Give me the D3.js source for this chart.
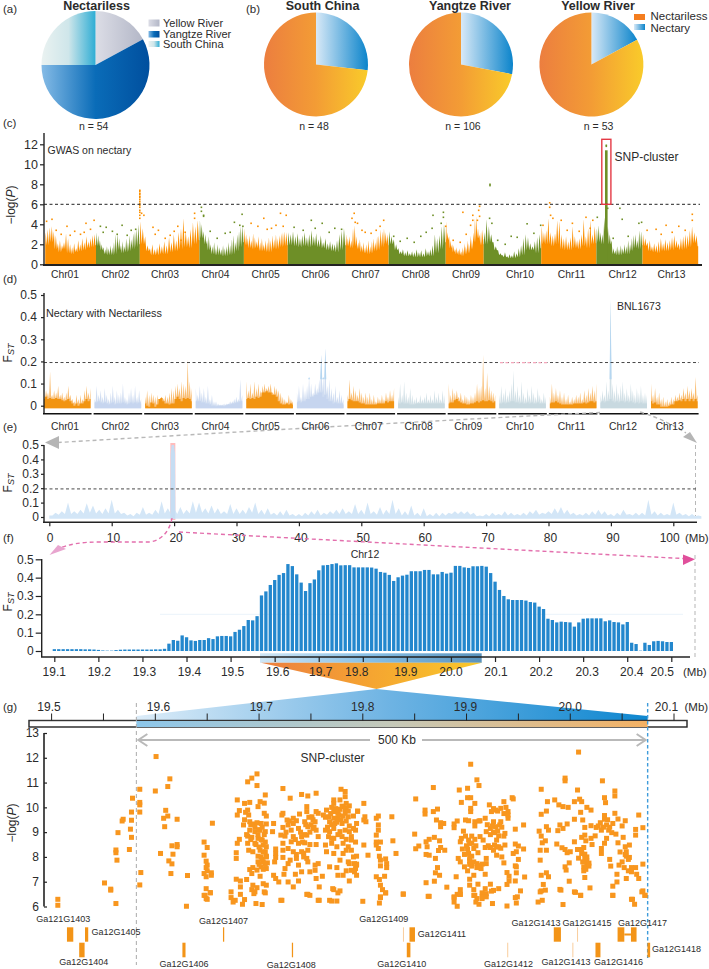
<!DOCTYPE html>
<html><head><meta charset="utf-8">
<script src="https://cdnjs.cloudflare.com/ajax/libs/d3/7.8.5/d3.min.js"></script>
<style>html,body{margin:0;padding:0;background:#fff}svg{display:block}text{font-family:"Liberation Sans",Arial,sans-serif;fill:#2b2b2b}</style>
</head><body><div id="c"></div>
<script>
// ---- DATA ----
const nectarilessRegions=["Yellow River","Yangtze River","South China"];
const nectarilessShares=[17.1,57.9,25];
const pieNames=["South China","Yangtze River","Yellow River"];
const pieN=[48,106,53];
const pieNectaryShare=[26.8,28,17.1];
const chrNames=["Chr01","Chr02","Chr03","Chr04","Chr05","Chr06","Chr07","Chr08","Chr09","Chr10","Chr11","Chr12","Chr13"];
const chrLengths=[50.8,43.8,59.7,44.4,43.9,57.9,43,57,38,57.5,55.2,46.1,55.7];
const gwasEnvelope=[
[3.2,3.5,3.7,3.8,3.3,2.9,2.1,2.4,1.9,2.2,3.1,2.6,2.0,1.7,2.1,1.6,2.4,2.0,2.6,2.2,2.8,2.3,2.6,2.9,3.0],
[3.2,2.9,2.4,2.0,1.7,1.5,1.8,1.6,1.9,1.7,2.2,3.0,3.1,2.6,1.9,2.3,1.8,2.6,2.2,2.9,2.5,3.1,3.3,3.6,4.0],
[4.3,3.6,2.8,1.9,1.6,2.0,1.5,1.7,2.1,1.8,2.3,1.9,2.7,2.2,3.0,2.4,3.2,3.6,4.6,3.3,2.8,3.5,4.2,3.8,4.4],
[4.4,4.0,3.3,3.0,2.4,2.8,2.0,1.8,2.2,1.6,2.0,1.7,1.5,1.9,1.6,1.8,2.2,1.9,2.5,2.9,2.2,3.0,3.3,3.8,3.9],
[3.6,3.0,2.6,2.9,2.4,3.1,2.7,2.3,2.8,2.2,2.6,2.0,2.4,2.2,2.7,2.4,2.9,2.5,3.0,2.6,2.9,3.1,3.2,3.3,3.2],
[3.2,3.0,3.3,2.8,3.1,2.6,2.9,3.2,2.7,3.0,3.4,2.8,3.1,2.5,2.9,2.2,2.6,2.1,2.3,2.1,2.0,2.4,3.0,3.4,3.6],
[3.0,2.6,2.8,2.4,3.6,3.9,2.8,2.2,2.5,1.9,2.2,1.7,2.0,2.4,1.8,2.3,2.6,2.2,2.8,2.9,3.5,3.3,3.6,3.2,3.0],
[3.3,2.8,2.5,2.0,1.6,1.3,1.5,1.2,1.4,1.1,1.3,1.2,1.5,1.2,1.4,1.1,1.6,1.3,1.5,1.9,3.0,2.6,2.9,3.8,4.0],
[4.3,3.2,2.8,2.4,2.0,1.9,1.5,1.7,1.4,1.6,1.3,1.7,2.1,1.8,2.4,2.1,2.9,2.5,3.2,4.6,4.8,3.6,3.0,3.3,3.5],
[3.2,4.5,3.8,3.0,2.2,1.8,1.4,1.1,0.9,1.2,0.8,1.0,0.9,1.3,1.1,1.6,1.9,2.6,3.0,2.7,2.1,1.8,2.3,2.7,3.0],
[3.8,3.2,3.4,4.6,3.2,2.9,3.1,4.4,4.3,3.0,2.6,2.8,2.3,2.7,3.8,2.8,2.4,2.6,3.0,4.5,2.8,3.6,4.4,3.0,3.8],
[3.6,3.9,3.2,3.0,4.7,5.6,3.8,3.0,2.4,1.6,1.4,1.8,1.5,1.9,1.6,2.0,1.8,2.4,2.0,2.6,2.9,3.0,2.4,3.4,3.3],
[3.0,2.6,2.2,2.4,1.8,2.1,1.9,2.3,2.6,2.1,2.5,2.2,2.4,2.7,2.9,2.4,2.1,2.6,2.8,3.0,2.9,3.4,3.8,3.2,2.9]];
const gwasFloor=[
[1.9,2.2,1.5,1.2,1.5,1.1,1.0,1.2,1.3,1.4,1.6,1.7,1.9],
[1.8,1.4,1.0,.9,.9,1.0,1.4,1.1,1.2,1.3,1.5,1.7,2.0],
[2.0,1.3,.9,.9,1.0,1.0,1.2,1.3,1.5,1.7,1.6,2.0,2.4],
[2.6,2.0,1.4,1.0,.9,.9,.8,.8,.9,1.0,1.3,1.7,2.2],
[1.9,1.6,1.5,1.6,1.3,1.3,1.2,1.2,1.5,1.5,1.7,1.8,1.9],
[1.9,1.8,1.7,1.8,1.7,1.8,1.7,1.6,1.4,1.3,1.2,1.4,1.9],
[1.8,1.6,1.8,1.5,1.2,1.1,1.0,1.1,1.3,1.4,1.7,2.0,1.9],
[2.0,1.4,1.0,.8,.8,.7,.7,.7,.8,.8,1.1,1.5,2.2],
[2.4,1.6,1.2,1.0,.9,.8,1.0,1.1,1.5,2.2,2.6,1.9,2.0],
[2.0,2.2,1.4,.9,.7,.6,.6,.7,.9,1.4,1.4,1.1,1.6],
[2.0,2.0,1.8,2.0,1.5,1.4,1.4,1.6,1.5,1.8,1.6,2.0,2.1],
[2.2,2.0,3.0,2.0,1.0,.9,.9,1.0,1.0,1.3,1.6,1.5,1.9],
[1.8,1.3,1.2,1.1,1.3,1.3,1.4,1.6,1.4,1.5,1.7,2.1,1.8]];
const gwasOutliers=[[1.4,4.3],[6.8,4.5],[21.8,3.8],[40.8,4.1],[48.9,4.4],[11,3.4],[29.5,3.3],[35.3,3.0],[45.3,3.5],[16,3.0],[25,2.9],[39,3.2],
[55.2,3.8],[61,3.7],[76.9,3.9],[86,3.4],[90.5,3.5],[67.2,3.3],[72,3.0],[58,3.2],[82,2.9],[94.6,7.4],[94.6,7.3],[94.6,7.1],[94.6,7.0],[94.6,6.8],[94.6,6.7],[94.6,6.5],[94.6,6.3],[94.6,6.1],[94.6,5.9],[94.6,5.7],[94.6,5.4],[94.6,5.2],[94.6,4.9],[94.6,4.6],[98.7,4.9],[96.4,5.1],
[107.8,3.7],[113.2,3.4],[129,3.3],[132.6,3.8],[149.4,5.1],[149.4,4.6],[156.2,5.7],[156.2,5.3],[158.4,4.9],[135.8,2.4],[158.4,4.8],[189.2,4.2],[196.9,5.0],[194.6,3.9],[197.7,3.8],[180,3.1],[110,3.0],[120,2.6],[125,2.9],[140,3.2],[165,3.3],[172,2.6],[185,3.2],
[235.3,5.1],[241,4.9],[218.6,4.6],[205.9,4.1],[212.7,3.8],[226.3,3.6],[230.8,3.9],[266.1,4.4],[277,4.1],[248.9,3.7],[258,3.4],[289.6,3.6],[296.4,3.5],[222,3.5],[238,3.8],[270,3.6],[284,3.2],
[309,5.1],[306.8,4.6],[310,4.2],[312.3,4.1],[338.5,4.4],[334.9,3.8],[316.8,3.4],[325.9,3.1],[387.8,4.9],[398.2,5.2],[398.2,4.7],[396,4.1],[400.5,3.8],[348.5,2.8],[362,2.6],[375.6,2.8],[386.9,3.6],[320,3.2],[331,3.4],[355,2.3],[369,2.2],[381,3.2],
[417.7,5.2],[434.4,5.8],[433.5,5.4],[427.6,4.9],[434.4,4.8],[427.6,4.4],[432.2,4.4],[425.4,3.9],[444.8,8.0],[444.8,7.87],[444.4,4.6],[446.7,4.1],[408,2.4],[415,2.2],[421,3.0],
[481.9,4.05],[495.5,3.9],[466,2.8],[488.7,3.1],[452.5,2.4],[460,2.0],[472,2.7],[504.5,6.15],[504.5,5.7],[505.4,4.9],[507.7,4.6],[497.8,3.9],[527.2,4.1],[540.8,4.7],[547.6,4.4],[552.1,4.7],[516,4.4],[522,3.4],[534,3.3],[545,3.6],
[561.1,11.9],[561.1,11.8],[562.5,5.6],[574.7,5.6],[577,4.5],[596.4,4.2],[593.7,4.1],[647.1,5.0],[647.1,4.4],[620.9,3.9],[633.6,3.8],[601.9,3.4],[610.9,3.5],[568,2.6],[583,2.8],[616,3.0],[627,3.2],[640,3.4]];
const gwasClusterPos=[561.1];
const gwasClusterTop=[11.4];
const gwasThreshold=6;
const fstThreshold=0.195;
const fstPeaks=[
[.05,.07,.06,.155,.05,.07,.06,.09,.05,.06,.04,.06,.09,.05,.03,.02,.05,.03,.05,.03,.07,.09,.06,.08],
[.03,.09,.05,.07,.04,.08,.05,.03,.06,.09,.04,.07,.05,.06,.10,.04,.03,.06,.08,.05,.09,.04,.07,.03],
[.04,.07,.05,.06,.05,.04,.05,.03,.04,.03,.05,.04,.06,.08,.07,.09,.1,.08,.11,.1,.09,.21,.11,.08],
[.08,.05,.09,.06,.08,.04,.09,.03,.05,.02,.02,.01,.005,.005,.01,.01,.01,.02,.02,.03,.04,.03,.12,.05],
[.11,.07,.1,.06,.11,.08,.1,.07,.09,.1,.08,.09,.1,.06,.09,.08,.07,.06,.04,.03,.02,.05,.03,.02],
[.06,.09,.04,.1,.07,.09,.13,.1,.06,.1,.08,.12,.23,.13,.26,.09,.12,.08,.06,.09,.04,.07,.05,.03],
[.05,.12,.06,.09,.07,.05,.08,.06,.04,.06,.04,.06,.03,.05,.02,.04,.03,.05,.03,.06,.04,.07,.05,.08],
[.04,.1,.05,.11,.06,.04,.08,.05,.03,.04,.02,.05,.03,.04,.06,.03,.05,.03,.07,.04,.06,.03,.07,.05],
[.1,.05,.08,.06,.07,.04,.06,.03,.05,.04,.03,.05,.04,.06,.1,.08,.09,.23,.08,.15,.09,.07,.06,.05],
[.05,.09,.06,.08,.05,.07,.1,.16,.07,.09,.05,.11,.06,.04,.08,.05,.09,.06,.04,.08,.05,.03,.06,.04],
[.04,.1,.06,.08,.05,.07,.04,.06,.03,.05,.02,.04,.03,.05,.04,.06,.03,.07,.05,.08,.06,.09,.07,.1],
[.05,.07,.05,.11,.07,.48,.1,.07,.1,.06,.09,.11,.06,.08,.05,.1,.07,.05,.08,.06,.09,.05,.06,.05],
[.1,.05,.08,.04,.06,.03,.04,.02,.03,.02,.04,.03,.05,.04,.06,.05,.08,.06,.09,.07,.08,.06,.13,.05]];
const fstBase=[
[.03,.04,.03,.035,.03,.03,.035,.03,.03,.025,.02,.025,.03,.02,.01,0,.01,0,.01,.01,.02,.03,.02,.03],
[.015,.015,.02,.015,.01,.015,.01,.005,.01,.015,.005,.01,.01,.01,.015,.01,.005,.01,.015,.01,.015,.01,.015,.01],
[.01,.0,-.005,.015,.01,-.005,.005,.03,.035,.02,.01,.01,.005,.01,.01,.03,.04,.03,.02,.035,.03,.035,.03,.02],
[.02,.02,.02,.015,.015,.01,.01,.005,0,0,-.002,0,0,0,-.002,.002,.005,.005,.01,.01,.015,.015,.02,.02],
[.03,.035,.03,.035,.03,.04,.035,.04,.06,.06,.065,.06,.06,.05,.05,.04,.02,.01,.005,.005,.01,.005,.01,.005],
[.015,.02,.015,.02,.02,.03,.03,.04,.04,.05,.05,.06,.06,.04,.05,.03,.02,.02,.01,.015,.01,.01,.01,.005],
[.02,.03,.025,.02,.02,.02,.015,.01,.01,.005,.005,.005,.005,.005,.005,.01,.01,.01,.01,.02,.015,.02,.02,.02],
[.01,.01,.015,.01,.01,.01,.005,.005,.005,.01,.01,.01,.01,.01,.01,.01,.01,.01,.01,.01,.01,.01,.01,.01],
[.01,.015,.015,.025,.03,.02,.015,.01,.01,.005,.005,.01,.01,.015,.02,.015,.02,.025,.02,.02,.025,.02,.015,.02],
[.01,.01,.015,.01,.015,.015,.02,.02,.015,.015,.01,.015,.01,.01,.015,.01,.015,.01,.01,.015,.01,.01,.01,.01],
[.01,.015,.015,.02,.015,.01,.005,.005,.005,.005,.005,.005,.01,.01,.01,.01,.01,.015,.01,.015,.02,.02,.015,.02],
[.015,.02,.015,.02,.02,.03,.02,.015,.02,.015,.02,.02,.015,.02,.015,.02,.015,.01,.015,.01,.015,.01,.01,.01],
[.02,.01,.015,.005,.005,-.005,-.005,-.005,-.005,0,.005,.005,.02,.02,.025,.02,.03,.02,.03,.02,.03,.02,.03,.02]];
const chr12Fst=[.01,.03,.04,.1,.04,.05,.095,.08,.05,.06,.12,.05,.03,.02,.03,.07,.03,.05,.11,.06,.06,.07,.05,.11,.1,.06,.08,.06,.04,.09,.06,.05,.07,.1,.05,.06,.03,.04,.05,.02,.02,.03,.04,.05,.03,.04,.05,.06,.04,.09,.05,.1,.04,.07,.05,.12,.06,.04,.08,.03,.06,.02,.03,.03,.03,.04,.04,.04,.03,.01,.02,.03,.02,.04,.03,.02,.03,.04,.05,.03,.04,.06,.07,.05,.03,.02,.03,.04,.05,.04,.02,.03,.05,.02,.03,.03,.12,.04,.03,.02,.1,.03,.02,.02,.01];
const chr12FstMid=[.01,.015,.02,.02,.02,.025,.03,.025,.02,.025,.025,.02,.01,.005,.015,.015,.015,.02,.025,.02,.02,.02,.025,.03,.03,.025,.025,.02,.02,.02,.02,.02,.03,.02,.015,.015,.01,.01,.01,.005,.005,.01,.015,.01,.015,.02,.02,.02,.02,.02,.015,.02,.015,.015,.02,.02,.01,.01,.01,.005,.005,.005,.005,.01,.02,.02,.02,.015,.005,.005,.005,.01,.01,.01,.01,.01,.01,.02,.015,.02,.02,.025,.02,.015,.01,.01,.01,.015,.015,.01,.005,.01,.015,.01,.01,.01,.015,.01,.01,.01,.015,.01,.005,.005,.005];
const chr12PeakMb=[19.4,19.45,19.6,20.0,20.15,20.2];
const chr12PeakFst=[.06,.44,.5,.5,.44,.06];
const peakBandMb=[19.4,20.2];
const zoomFst=[
.01,.01,.01,.01,.01,.01,.01,.009,.009,.008,
.006,.003,.002,.002,.005,.007,.008,.008,.008,.008,
.008,.008,.008,.009,.009,.012,.04,.06,.056,.085,
.075,.058,.055,.06,.06,.07,.065,.08,.082,.082,
.08,.104,.116,.136,.169,.167,.19,.303,.325,.36,
.387,.415,.425,.474,.463,.418,.373,.327,.37,.39,
.44,.467,.469,.474,.478,.467,.468,.468,.456,.456,
.456,.456,.455,.449,.431,.427,.415,.382,.402,.411,
.416,.435,.435,.435,.442,.442,.418,.418,.431,.422,
.427,.464,.464,.456,.453,.462,.462,.464,.46,.425,
.378,.333,.3,.282,.278,.278,.278,.275,.267,.264,
.242,.229,.176,.169,.156,.16,.158,.156,.133,.156,
.176,.178,.178,.178,.178,.162,.167,.158,.156,.145,
.158,.045,.038,.002,.045,.033,.053,.055,.053,.049,
.049];
const zoomStartMb=19.1, zoomStepMb=0.01;
const fTicks=[19.1,19.2,19.3,19.4,19.5,19.6,19.7,19.8,19.9,20.0,20.1,20.2,20.3,20.4,20.5];
const gTicks=[19.5,19.6,19.7,19.8,19.9,20.0,20.1];
const eTicks=[0,10,20,30,40,50,60,70,80,90,100];
const clusterStartMb=19.5817, clusterEndMb=20.0746;
// SNP positions: kb past 19.5 Mb, -log(P)
const snpKb=[100.7,198,193,189,198,114,112,100,85,78,85,85,77,85,69,68,77,64,76,77,75,62,62,63,51,57,86,85,
110,108,112,121,109,116,121,121,117,105,113,116,115,131,155,147,150,147,149,150,149,150,147,154,154,149,149,153,148,150,
179,179,181,186,191,189,190,185,191,199,201,206,205,205,207,214,213,194,198,202,207,191,196,201,206,189,193,199,203,181,179,189,196,204,207,190,194,201,206,178,178,199,202,207,199,204,208,216,216,216,215,191,194,198,202,207,193,201,214,216,178,182,188,182,194,198,204,207,193,196,206,173,182,219,
223,230,241,247,255,223,222,239,246,246,255,227,233,236,244,251,254,257,223,228,231,238,247,252,255,221,225,233,241,246,257,223,231,238,244,255,223,228,233,241,247,223,230,236,243,246,225,228,238,247,254,257,224,235,241,249,254,261,228,233,238,255,258,222,246,249,257,268,272,278,
279,283,283,272,278,272,284,287,284,281,278,265,272,276,283,295,262,267,272,276,286,291,268,273,280,291,264,268,278,283,287,267,272,280,284,289,264,270,275,286,284,265,272,281,291,278,286,268,275,287,292,294,284,292,276,281,287,271,276,
301,295,302,301,303,313,315,328,315,315,313,329,313,317,313,315,301,305,332,316,317,322,323,317,323,313,321,316,317,319,322,317,339,294,293,289,289,294,294,293,294,289,
351,368,360,360,368,372,371,375,378,375,350,364,369,374,361,354,351,362,375,373,379,361,364,370,372,370,374,361,369,381,363,
404,410,412,393,401,401,404,395,408,422,436,444,445,404,404,424,428,433,438,440,440,440,418,413,408,402,399,391,388,388,408,426,433,428,423,432,447,455,397,399,395,419,427,436,413,405,402,408,416,429,394,403,418,427,423,431,437,447,450,455,396,401,407,426,402,405,411,429,434,445,448,392,394,403,419,450,436,410,415,419,405,410,414,401,447,448,407,418,390,403,439,441,448,456,403,407,411,447,441,423,431,439,418,426,424,394,415,419,452,449,391,394,407,388,415,410,
508,495,495,531,472,507,543,543,533,534,485,478,489,493,498,504,509,511,516,520,477,472,510,543,566,533,546,504,512,533,553,497,490,477,514,520,529,535,550,570,470,479,488,493,525,530,537,540,563,563,472,514,524,511,473,476,504,515,520,544,535,551,546,557,487,521,533,513,492,471,477,495,500,507,530,553,554,530,511,497,514,554,557,471,514,516,538,550,499,516,539,547,570,495,496,513,518,552,559,563,556,559,513,477,472,479,545,564,514,554,566,545,499,474,541,519,472,476,490,491,505,510,541,570,572,559,
6,6,62,130,57,153,147,149,173,177,175,186,184,197,203,195,205,221,247,258,270,275,300,316,317,322,339,364,388,394,388,391,408,415,409,412,419,425,439,448,447,469,473,493,471,504,510,541,560,562,569,572,
196,200,203,205,199,202,206,197,200,204,207,203,206,200,204,192,188,192,186,187,
248,252,250,245,253,249,244,240,229,233,226,235,242,249,236,243,
270,274,280,283,286,277,281,269,264,275,279,284,270,272,266,287,293,281,276,270,
412,420,425,430,434,426,431,437,423,429,433,421,405,409,400,398,403,407,398,403,412,436,430,426,
516,518,515,512,511,508,541,536,532,527,538,548,553,556];
const snpLogP=[12.05,11.35,11.18,11.03,10.88,11.15,10.84,10.66,10.73,10.37,10.2,10.1,9.81,9.81,9.52,9.45,9.48,8.98,9.12,8.79,8.3,8.28,8.17,7.87,6.95,6.7,7.37,6.87,
9.88,9.56,9.65,9.52,9.22,8.45,8.5,8.41,8.11,8.14,7.84,7.72,7.33,7.25,9.36,8.6,8.38,8.07,7.83,7.67,7.57,7.44,7.33,7.36,7.26,7.2,6.72,6.56,6.45,6.29,
10.3,9.69,9.87,10.16,10.2,9.89,9.69,9.29,9.42,10.03,10.23,10.5,10.17,9.76,9.65,9.35,9.02,9.33,9.38,9.35,9.33,9.08,9.02,9.08,9.02,8.84,8.79,8.75,8.68,8.71,8.55,8.55,8.55,8.48,8.41,8.27,8.21,8.27,8.21,8.17,7.94,8.03,8.0,8.03,7.8,7.8,7.76,8.32,8.14,7.98,7.8,7.49,7.57,7.47,7.6,7.53,7.33,7.22,7.26,7.13,7.1,7.03,7.09,6.79,6.86,6.76,6.92,6.86,6.68,6.59,6.55,6.59,6.49,6.99,
10.76,10.37,10.52,10.46,10.57,9.76,9.69,9.73,10.03,9.83,9.83,9.49,9.56,9.46,9.42,9.62,9.42,9.76,9.19,9.29,9.08,9.15,9.22,9.15,9.08,8.88,8.84,8.82,8.82,8.88,8.82,8.55,8.61,8.55,8.57,8.5,8.27,8.34,8.21,8.21,8.27,7.98,7.87,7.94,8.0,7.94,7.53,7.73,7.67,7.8,7.67,7.73,7.3,7.3,7.4,7.4,7.46,7.22,6.99,6.79,7.03,7.13,6.79,6.25,6.49,6.45,6.25,6.25,6.68,6.63,
10.73,10.64,10.43,10.3,10.3,10.16,10.16,10.06,9.96,10.03,9.92,9.89,9.83,9.76,9.76,9.84,9.69,9.62,9.56,9.56,9.62,9.65,9.42,9.35,9.35,9.15,9.08,9.02,9.02,9.08,9.02,8.82,8.75,8.82,8.71,8.68,8.48,8.55,8.41,8.41,8.27,8.21,8.14,8.14,8.0,7.87,7.8,7.6,7.57,7.73,7.73,7.67,7.44,7.4,7.26,7.26,7.03,6.72,6.55,
10.16,9.85,9.62,9.49,9.42,9.56,9.65,9.62,9.29,9.08,8.88,8.65,8.6,8.6,8.48,8.34,8.48,8.07,8.14,8.03,7.87,7.92,7.73,7.64,7.57,7.2,7.22,7.09,6.86,6.68,6.55,6.36,6.51,9.35,9.08,8.82,8.27,8.03,7.71,7.53,7.26,7.46,
10.34,10.8,9.89,9.73,9.83,9.93,9.49,9.38,9.35,9.22,8.92,8.71,8.79,8.65,8.61,8.44,8.33,8.41,8.38,8.26,8.27,8.1,8.07,7.94,7.57,7.36,7.26,6.96,7.02,6.78,6.41,
11.74,11.11,10.88,10.7,10.77,10.39,10.39,10.2,10.16,10.1,10.23,10.39,10.34,9.96,9.83,9.83,9.89,9.96,10.0,9.83,9.69,9.56,9.56,9.46,9.42,9.46,9.49,9.45,9.33,9.18,9.25,9.42,9.42,9.22,9.15,9.29,9.12,9.29,9.04,8.84,8.75,9.02,8.98,8.84,8.82,8.84,8.68,8.71,8.68,8.68,8.61,8.55,8.38,8.48,8.38,8.41,8.48,8.52,8.44,8.32,8.32,8.32,8.34,8.27,8.14,8.03,8.17,8.07,8.0,8.14,8.21,7.94,7.8,7.84,7.94,7.9,7.76,7.73,7.71,7.73,7.63,7.57,7.53,7.44,7.64,7.6,7.26,7.3,7.2,7.1,7.37,7.22,7.36,7.19,6.86,6.68,6.9,7.03,7.03,6.9,6.72,6.89,6.72,6.65,6.62,6.68,6.55,6.52,6.63,6.39,6.49,6.49,6.45,6.39,6.39,6.32,
12.23,11.18,11.07,11.07,10.73,10.7,10.66,10.46,10.39,10.19,10.3,10.23,10.1,10.03,10.0,10.23,10.33,10.23,10.0,9.89,9.85,9.72,9.8,9.76,9.69,9.67,9.53,9.52,9.49,9.52,9.46,9.33,9.29,9.22,9.19,9.26,9.38,9.29,9.25,9.18,9.04,9.08,9.06,9.15,9.19,9.08,9.08,8.98,9.11,8.88,8.84,8.88,8.85,8.79,8.57,8.65,8.61,8.65,8.75,8.92,8.75,8.79,8.57,8.48,8.52,8.5,8.55,8.38,8.37,8.27,8.27,8.3,8.21,8.3,8.34,8.41,8.21,8.14,8.14,8.17,8.11,8.03,7.98,7.87,7.94,7.84,7.9,7.8,7.76,7.67,7.63,7.67,7.71,7.6,7.47,7.6,7.63,7.57,7.57,7.57,7.44,7.4,7.44,7.36,7.26,7.2,7.3,7.3,7.17,7.13,7.13,6.99,7.02,6.89,6.82,6.75,6.63,6.66,6.69,6.66,6.57,6.45,6.45,6.63,6.45,6.29,
6.29,6.05,6.12,6.01,6.66,6.55,6.45,6.32,6.36,6.25,6.18,6.28,6.09,6.12,6.08,6.52,6.59,6.25,6.49,6.25,6.22,6.22,6.21,6.14,6.39,6.55,6.49,6.41,6.36,6.49,6.18,6.01,6.45,6.32,6.18,6.09,6.39,6.12,6.02,6.14,6.36,6.18,6.25,6.08,6.59,6.59,6.45,6.45,6.29,6.09,6.59,6.45,
9.2,9.1,9.2,8.9,8.9,8.7,8.6,8.5,8.4,8.2,8.0,7.9,7.7,7.7,7.5,9.3,8.9,8.7,9.5,9.8,
9.6,9.5,9.3,9.3,9.2,9.0,8.9,9.0,9.45,9.35,9.0,8.7,8.6,8.5,8.1,8.15,
10.0,9.95,10.05,9.95,9.85,9.7,9.65,9.75,9.6,9.4,9.5,9.45,9.3,9.15,9.2,9.25,8.6,8.55,8.9,8.75,
9.45,9.3,9.25,9.05,9.2,9.0,8.85,8.95,8.9,8.4,8.35,8.45,8.55,8.45,8.45,8.1,7.95,7.8,7.6,7.7,7.65,9.75,9.85,9.95,
8.0,7.75,7.5,7.8,8.3,7.95,9.35,9.5,9.2,9.25,9.2,8.2,8.1,7.9];
const geneStart=[19.5148,19.5322,19.6652,19.8387,19.845,19.9841,20.0065,20.0456,20.0585,19.5266,19.6261,19.7316,19.8424,19.9392,20.002,20.0243,20.0744];
const geneEnd  =[19.5209,19.5353,19.6664,19.8397,19.8503,19.991,20.0075,20.0521,20.0639,19.5318,19.6291,19.7328,19.8459,19.9402,20.003,20.0291,20.077];
const geneRow  =[0,0,0,0,0,0,0,0,0,1,1,1,1,1,1,1,1];
const geneFaint=[0,0,0,1,0,0,1,0,0,0,0,0,0,1,1,0,0];
const geneLabels=["Ga121G1403","Ga12G1405","Ga12G1404","Ga12G1407","Ga12G1406","Ga12G1408","Ga12G1409","Ga12G1411","Ga12G1410","Ga12G1412","Ga12G1413","Ga12G1415","Ga12G1417","Ga12G1413","Ga12G1416","Ga12G1418"];
const geneLabelMb=[19.5113,19.5621,19.5309,19.6657,19.6276,19.7311,19.8201,19.8763,19.8376,19.9405,19.967,20.0161,20.0696,19.9958,20.0466,20.1024];
const snpClusterLabel="SNP-cluster";
// ---- LAYOUT (not data) ----
const geneLabelY=[919,931.7,961.7,921,964,964.5,918.7,934.3,964,963.7,923,923,923,961.7,962.3,949];
const W=709,H=969;
const svg=d3.select("#c").append("svg").attr("width",W).attr("height",H);
const defs=svg.append("defs");
function grad(id,stops){const g=defs.append("linearGradient").attr("id",id);stops.forEach((c,i)=>g.append("stop").attr("offset",i/(stops.length-1)).attr("stop-color",c));return `url(#${id})`;}
const gYellow=grad("gy",["#dcdde6","#b3b7c7"]),gYangtze=grad("gz",["#85bbe6","#0a6cb8","#004f9e"]),gSouth=grad("gs",["#eaf2f1","#cfe6ea","#2fadd4"]);
const gNectary=grad("gn",["#d8e9f7","#0b84cb"]),gNless=grad("gl",["#ec7e3f","#f39c35","#f9cb2a"]);
const gBand=grad("gb",["#cfe6f5","#86bfe6","#5a93bd"]),gTri=grad("gt",["#ec7e3f","#f5a531","#f9c92a"]),gBig=grad("gB",["#dcecf8","#6db3e3","#0e87d0"]),gTrack=grad("gT",["#8cc6ea","#c5c9b9","#f3b164"]);
function txt(x,y,s,o={}){const t=svg.append("text").attr("x",x).attr("y",y).attr("dy",".35em").attr("font-size",o.size||11).attr("text-anchor",o.anchor||"start").text(s);if(o.bold)t.attr("font-weight","bold");return t;}
["(a)","(b)","(c)","(d)","(e)","(f)","(g)"].forEach((s,i)=>txt([3,246,3,3,3,3,3][i],[9,9,123,279,427,538,707][i],s,{size:11.5}));
// ---- PIES ----
const pie=d3.pie().sort(null).value(d=>d);
function drawPie(cx,cy,r,vals,fills){const arc=d3.arc().innerRadius(0).outerRadius(r);
 svg.append("g").attr("transform",`translate(${cx},${cy})`).selectAll("path").data(pie(vals)).join("path").attr("d",arc).attr("fill",(d,i)=>fills[i]);}
drawPie(95.5,65,54,nectarilessShares,[gYellow,gYangtze,gSouth]);
txt(96.5,6,"Nectariless",{size:12.5,bold:1,anchor:"middle"});
txt(93.7,126,"n = 54",{size:10.5,anchor:"middle"});
[gYellow,gYangtze,gSouth].forEach((f,i)=>{svg.append("rect").attr("x",148.5).attr("y",[19.5,31,41][i]).attr("width",11).attr("height",[7,6.5,6][i]).attr("fill",f);txt(163,[23,34,44.5][i],nectarilessRegions[i],{size:11});});
const pieCx=[316,461,591.4],titleX=[322.6,470,598],nX=[314,463,598.6];
pieNames.forEach((nm,i)=>{drawPie(pieCx[i],64.5,52,[pieNectaryShare[i],100-pieNectaryShare[i]],[gNectary,gNless]);
 txt(titleX[i],6,nm,{size:12.5,bold:1,anchor:"middle"});txt(nX[i],126,"n = "+pieN[i],{size:10.5,anchor:"middle"});});
svg.append("rect").attr("x",634).attr("y",14).attr("width",11).attr("height",6).attr("fill","#f47d1f");
svg.append("rect").attr("x",634).attr("y",24).attr("width",11).attr("height",6).attr("fill",gNectary);
txt(650.5,15.5,"Nectariless",{size:11.5});txt(650.5,27.5,"Nectary",{size:11.5});
// axis helper
function styleAxis(g,w){g.selectAll("path").attr("stroke","#222").attr("stroke-width",w||1.4);g.selectAll("line").attr("stroke","#222").attr("stroke-width",1.2);g.selectAll("text").attr("fill","#2b2b2b").style("font-family",'"Liberation Sans",Arial,sans-serif');return g;}
function logPLabel(x,y){const t=svg.append("text").attr("transform",`translate(${x},${y}) rotate(-90)`).attr("text-anchor","middle").attr("font-size",12);t.append("tspan").text("−log(");t.append("tspan").attr("font-style","italic").text("P");t.append("tspan").text(")");}
function fstLabel(x,y){const t=svg.append("text").attr("transform",`translate(${x},${y}) rotate(-90)`).attr("text-anchor","middle").attr("font-size",12);t.append("tspan").text("F");t.append("tspan").attr("font-size",9).attr("font-style","italic").attr("dy",2).text("ST");}
// ---- (c) MANHATTAN ----
const totalLen=d3.sum(chrLengths);
const xM=d3.scaleLinear().domain([0,totalLen]).range([45.2,698.2]);
const yM=d3.scaleLinear().domain([0,12]).range([264.3,144.3]);
const orange="#fb8f00",green="#6e8f27";
let off=0;const chrStart=[];chrLengths.forEach(l=>{chrStart.push(off);off+=l;});
const gM=svg.append("g");
const mArea=d3.area().x(d=>xM(d[0])).y0(yM(0)).y1(d=>yM(d[1]));
gwasEnvelope.forEach((arr,c)=>{const st=chrLengths[c]/arr.length;const pts=[[chrStart[c],gwasFloor[c][0]]];
 arr.forEach((v,i)=>{pts.push([chrStart[c]+(i+.25)*st,v]);pts.push([chrStart[c]+(i+.75)*st,gwasFloor[c][Math.floor(i/2)]]);});
 pts.push([chrStart[c]+chrLengths[c],gwasFloor[c][12]]);
 gM.append("path").attr("d",mArea(pts)).attr("fill",c%2?green:orange);});
const chrOf=p=>{let k=0;chrStart.forEach((s,i)=>{if(p>=s)k=i;});return k;};
gM.selectAll(null).data(gwasOutliers).join("rect").attr("x",d=>xM(d[0])-.8).attr("y",d=>yM(d[1])-.8).attr("width",1.6).attr("height",1.6).attr("fill",d=>chrOf(d[0])%2?green:orange);
gM.selectAll(null).data(gwasClusterPos).join("rect").attr("x",d=>xM(d)-1.3).attr("width",2.6).attr("y",(d,i)=>yM(gwasClusterTop[i])).attr("height",(d,i)=>yM(0)-yM(gwasClusterTop[i])).attr("fill",green);
svg.append("line").attr("x1",44).attr("x2",700).attr("y1",yM(gwasThreshold)).attr("y2",yM(gwasThreshold)).attr("stroke","#222").attr("stroke-width",1).attr("stroke-dasharray","3 2.5");
svg.append("rect").attr("x",601.8).attr("y",139.3).attr("width",9.1).attr("height",yM(gwasThreshold)-139.3).attr("fill","none").attr("stroke","#e43a45").attr("stroke-width",1.4);
const axM=svg.append("g").attr("transform","translate(44,0)").call(d3.axisLeft(yM).tickValues([0,2,4,6,8,10,12]).tickSize(4).tickPadding(2));
axM.select("path").attr("d","M0,133V264.3");styleAxis(axM,1.4);axM.selectAll("text").attr("font-size",12.5);
svg.append("line").attr("x1",43).attr("x2",702).attr("y1",265).attr("y2",265).attr("stroke","#222").attr("stroke-width",2);
const lblC=[65,115.4,165,215.4,265.6,315.4,365.6,415.8,466,520,571.5,622.6,671.5];
chrNames.forEach((n,i)=>txt(lblC[i],274,n,{size:10.3,anchor:"middle"}));
logPLabel(15,205);
txt(47.5,150,"GWAS on nectary",{size:10.5});txt(614.5,157,snpClusterLabel,{size:12});
// ---- (d) FST genome ----
const bandD=d3.scaleBand().domain(chrNames).range([43,698.6]).paddingInner(.04);
const yD=d3.scaleLinear().domain([0,.5]).range([405.7,295]);
const oddStroke=["#f9bd72","#cfdcf1"],greyBlue="#d2e0e6";
chrNames.forEach((n,c)=>{const bx=bandD(n),bw=bandD.bandwidth();
 const xi=d3.scaleLinear().domain([0,fstPeaks[c].length-1]).range([bx+1,bx+bw-1]);
 const isOdd=c%2==0;const pale=isOdd?oddStroke[0]:([7,9,11].includes(c)?greyBlue:oddStroke[1]);
 const zig=[];fstPeaks[c].forEach((v,i)=>{zig.push([i,v]);if(i<fstPeaks[c].length-1)zig.push([i+.5,fstBase[c][i]]);});
 svg.append("path").attr("d",d3.area().x(d=>xi(d[0])).y0(yD(-.012)).y1(d=>yD(d[1]))(zig)).attr("fill",pale);
 if(c==5||c==11){const hi=zig.map(d=>[d[0],d[1]]);svg.append("path").attr("d",d3.area().x(d=>xi(d[0])).y0(yD(.12)).y1(d=>yD(Math.max(d[1],.12)))(hi)).attr("fill","#b5d6f0");}
 const dark=isOdd?"#f29411":(c==7||c==9||c==11?"#c8d9e0":"#c6d5ef");
 svg.append("path").attr("d",d3.area().x((d,i)=>xi(i)).y0(yD(-.012)).y1(d=>yD(d)).curve(d3.curveStep)(fstBase[c])).attr("fill",dark);
 svg.append("line").attr("x1",bx).attr("x2",bx+bw).attr("y1",413.7).attr("y2",413.7).attr("stroke","#111").attr("stroke-width",1.6);
});
svg.append("line").attr("x1",44).attr("x2",699).attr("y1",yD(fstThreshold)).attr("y2",yD(fstThreshold)).attr("stroke","#333").attr("stroke-width",.9).attr("stroke-dasharray","3 2.5");
svg.append("line").attr("x1",500).attr("x2",547).attr("y1",yD(fstThreshold)).attr("y2",yD(fstThreshold)).attr("stroke","#f6a6bb").attr("stroke-width",1.2).attr("stroke-dasharray","3 2.5");
const axD=svg.append("g").attr("transform","translate(44,0)").call(d3.axisLeft(yD).tickValues([0,.1,.2,.3,.4,.5]).tickFormat(d=>d==0?"0":d.toFixed(1)).tickSize(3).tickPadding(4));
axD.select("path").attr("d","M0,293V413");styleAxis(axD,1.4);axD.selectAll("text").attr("font-size",12);
const lblD=[65,115.4,165,215.4,265.6,315.4,368.8,418.6,468.3,520,571.5,623,669.7];
fstLabel(12,353);
txt(46,313.7,"Nectary with Nectariless",{size:10.8});txt(617,306.7,"BNL1673",{size:10.5});
// annotation arrows under labels
function dash(d,c,w){svg.append("path").attr("d",d).attr("fill","none").attr("stroke",c).attr("stroke-width",w||1.4).attr("stroke-dasharray","4 3");}
function tri(p,c){svg.append("polygon").attr("points",p).attr("fill",c);}
dash("M600,412.5 C480,418 200,434 58,442.5","#b8b8b8");dash("M640,412 C660,418 675,426 686,433","#b8b8b8");
tri("45,442.5 59,436 59,449","#b5b5b5");tri("697,443 683,437 690,432","#b5b5b5");
dash("M695.5,445V516","#b8b8b8",1);
chrNames.forEach((n,i)=>txt(lblD[i],426,n,{size:10.3,anchor:"middle"}));
// ---- (e) Chr12 FST ----
const xE=d3.scaleLinear().domain([0,100]).range([49.3,673.3]);
const yE=d3.scaleLinear().domain([0,.5]).range([517,445]);
svg.append("rect").attr("x",xE(peakBandMb[0])).attr("width",xE(peakBandMb[1])-xE(peakBandMb[0])).attr("y",443).attr("height",77).attr("fill","#ffbcbc");
const zigE=[];chr12Fst.forEach((v,i)=>{zigE.push([i,v]);zigE.push([i+.5,chr12FstMid[i]]);});
svg.append("path").attr("d",d3.area().x(d=>xE(d[0])).y0(yE(-.012)).y1(d=>yE(d[1]))(zigE)).attr("fill","#d3e6f7");
svg.append("path").attr("d",d3.area().x((d,i)=>xE(chr12PeakMb[i])).y0(yE(-.012)).y1(d=>yE(d))(chr12PeakFst)).attr("fill","#c6ddf3");
svg.append("line").attr("x1",44).attr("x2",696).attr("y1",yE(fstThreshold)).attr("y2",yE(fstThreshold)).attr("stroke","#333").attr("stroke-width",.9).attr("stroke-dasharray","3 2.5");
const axEy=svg.append("g").attr("transform","translate(44,0)").call(d3.axisLeft(yE).tickValues([0,.1,.2,.3,.4,.5]).tickFormat(d=>d==0?"0":d.toFixed(1)).tickSize(3).tickPadding(2));
axEy.select("path").attr("d","M0,445V522.3");styleAxis(axEy);axEy.selectAll("text").attr("font-size",12);
const axEx=svg.append("g").attr("transform","translate(0,522.3)").call(d3.axisBottom(xE).tickValues(eTicks).tickFormat("").tickSize(4));
axEx.select("path").attr("d","M43,0H697");styleAxis(axEx);
const eShift=[.7,1.8,2,2,2,2,1.5,2,2,2,-3.6];
eTicks.forEach((t,i)=>txt(xE(t)+eShift[i],537.7,t,{size:12,anchor:"middle"}));
txt(685,537.7,"(Mb)",{size:11.5});
fstLabel(12,483);
dash("M172,518 C170,530 162,541 149,542 L100,542 C82,542 68,544 58,549","#e36fad");
dash("M179,532 L423,545 L683,558.5","#e36fad");
tri("49.5,555 58,545 66,549","#e8a5cf");tri("695,559.3 683,554.5 683,565","#e04f9b");
// ---- (f) zoom bars ----
const xF=d3.scaleLinear().domain([19.1,20.5]).range([54.3,671.3]);
const yF=d3.scaleLinear().domain([0,.5]).range([651,559.3]);
svg.append("line").attr("x1",160).attr("x2",683).attr("y1",yF(.2)).attr("y2",yF(.2)).attr("stroke","#e3eef8").attr("stroke-width",.7);
svg.append("g").selectAll("rect").data(zoomFst).join("rect").attr("x",(d,i)=>xF(zoomStartMb+i*zoomStepMb)-1.6).attr("width",3.3).attr("y",d=>yF(d)).attr("height",d=>yF(0)-yF(d)).attr("fill","#2387cd");
svg.append("rect").attr("x",260).attr("y",653.3).attr("width",221.7).attr("height",9.5).attr("fill",gBand);
svg.append("polygon").attr("points","261,662.8 482,662.8 376.5,689").attr("fill",gTri);
const axFy=svg.append("g").attr("transform","translate(41.7,0)").call(d3.axisLeft(yF).tickValues([0,.1,.2,.3,.4,.5]).tickFormat(d=>d==0?"0":d.toFixed(1)).tickSize(6).tickPadding(2));
axFy.select("path").attr("d","M0,559V657");styleAxis(axFy);axFy.selectAll("text").attr("font-size",12);
const axFx=svg.append("g").attr("transform","translate(0,657)").call(d3.axisBottom(xF).tickValues(fTicks).tickFormat("").tickSize(5));
axFx.select("path").attr("d","M41,0H690");styleAxis(axFx);
const fShift=[0,1,2,3,2,3,2,-6,-1,0,1,2,4,4.5,-9];
fTicks.forEach((t,i)=>txt(xF(t)+fShift[i],671.5,t.toFixed(1),{size:12,anchor:"middle"}));
txt(683,671.5,"(Mb)",{size:11.5});
txt(365,554,"Chr12",{size:10.5,anchor:"middle"});
fstLabel(12,602);
dash("M695,555V657","#b5b5b5",1);
// ---- (g) detail ----
const xG=d3.scaleLinear().domain([19.5,20.1]).range([51.6,674]);
const yG=d3.scaleLinear().domain([6,13]).range([906.5,733]);
const x0=xG(clusterStartMb),x1=xG(clusterEndMb);
svg.append("polygon").attr("points",`${x0},716 376.5,689 ${x1},716 ${x1},721 ${x0},721`).attr("fill",gBig);
svg.append("rect").attr("x",29).attr("y",720.5).attr("width",658).attr("height",6.5).attr("fill","#fff").attr("stroke","#222").attr("stroke-width",1.4);
svg.append("rect").attr("x",x0).attr("y",720.5).attr("width",x1-x0).attr("height",6.5).attr("fill",gTrack);
svg.append("path").attr("d",`M29,720.5H687`).attr("stroke","#333").attr("stroke-width",1);
const gMinor=gTicks.flatMap((t,i)=>i<gTicks.length-1?[t,t+.05]:[t]);
svg.append("g").selectAll("line").data(gMinor).join("line").attr("x1",d=>xG(d)).attr("x2",d=>xG(d)).attr("y1",713.5).attr("y2",720.5).attr("stroke","#222").attr("stroke-width",1);
const gShift=[-2.6,3.2,2.3,0,-1,0,-7.5];
gTicks.forEach((t,i)=>txt(xG(t)+gShift[i],707,t.toFixed(1),{size:12,anchor:"middle"}));
txt(684.5,707,"(Mb)",{size:11.5});
svg.append("line").attr("x1",x0).attr("x2",x0).attr("y1",703).attr("y2",965).attr("stroke","#aaa").attr("stroke-width",1).attr("stroke-dasharray","4 3");
svg.append("line").attr("x1",x1).attr("x2",x1).attr("y1",703).attr("y2",958).attr("stroke","#3f9cdb").attr("stroke-width",1.4).attr("stroke-dasharray","3.5 2.5");
const gc="#b9b9b9";
svg.append("path").attr("d",`M${x0+2},740H370M422,740H${x1-2}M${x0+11},734L${x0+2},740L${x0+11},746M${x1-11},734L${x1-2},740L${x1-11},746`).attr("fill","none").attr("stroke",gc).attr("stroke-width",2);
txt(397,740,"500 Kb",{size:12,anchor:"middle"});
txt(332.6,758,snpClusterLabel,{size:12,anchor:"middle"});
svg.append("g").selectAll("rect").data(snpKb).join("rect").attr("x",d=>xG(19.5+d/1000)-2.5).attr("y",(d,i)=>yG(snpLogP[i])-2.5).attr("width",5).attr("height",5).attr("fill","#f8961e");
const axG=svg.append("g").attr("transform","translate(44,0)").call(d3.axisRight(yG).tickValues([6,7,8,9,10,11,12,13]).tickFormat("").tickSize(3));
axG.select("path").attr("d","M0,733V906.5");styleAxis(axG,1.6);
[6,7,8,9,10,11,12,13].forEach(v=>txt(39,yG(v),v,{size:12,anchor:"end"}));
logPLabel(16,823);
const rowY=[927.3,942.7],rowH=[14.4,14.6];
svg.append("g").selectAll("rect").data(geneStart).join("rect").attr("x",d=>xG(d)).attr("width",(d,i)=>xG(geneEnd[i])-xG(d)).attr("y",(d,i)=>rowY[geneRow[i]]).attr("height",(d,i)=>rowH[geneRow[i]]).attr("fill",(d,i)=>geneFaint[i]?"#f9cfa0":"#f39417");
svg.append("rect").attr("x",xG(20.0521)).attr("width",xG(20.0585)-xG(20.0521)).attr("y",933.5).attr("height",2).attr("fill","#f39417");
geneLabels.forEach((g,i)=>txt(xG(geneLabelMb[i]),geneLabelY[i],g,{size:9,anchor:"middle"}));
</script></body></html>
